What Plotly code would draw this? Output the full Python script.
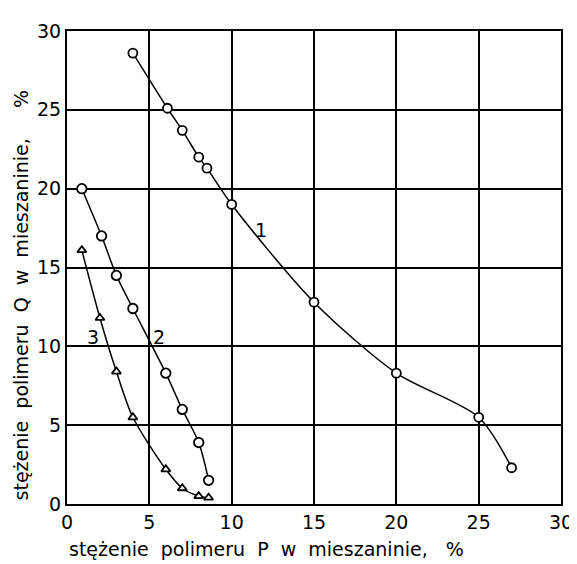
import plotly.graph_objects as go

# Series 1 (circles)
x1 = [4.0, 6.1, 7.0, 8.0, 8.5, 10.0, 15.0, 20.0, 25.0, 27.0]
y1 = [28.6, 25.1, 23.7, 22.0, 21.3, 19.0, 12.8, 8.3, 5.5, 2.3]
# Series 2 (circles)
x2 = [0.9, 2.1, 3.0, 4.0, 6.0, 7.0, 8.0, 8.6]
y2 = [20.0, 17.0, 14.5, 12.4, 8.3, 6.0, 3.9, 1.5]
# Series 3 (triangles)
x3 = [0.9, 2.0, 3.0, 4.0, 6.0, 7.0, 8.0, 8.6]
y3 = [16.1, 11.8, 8.4, 5.5, 2.2, 1.0, 0.5, 0.4]

curve_labels = ["1", "2", "3"]
label_x = [11.8, 5.6, 1.6]
label_y = [17.4, 10.6, 10.6]

xticks = [0, 5, 10, 15, 20, 25, 30]
yticks = [0, 5, 10, 15, 20, 25, 30]

FONT = "DejaVu Sans"

fig = go.Figure()

def add_series(x, y, symbol, size):
    fig.add_trace(go.Scatter(
        x=x, y=y, mode="lines+markers",
        line=dict(color="black", width=1.5, shape="spline", smoothing=0.8),
        marker=dict(symbol=symbol, size=size, color="white",
                    line=dict(color="black", width=1.8)),
        showlegend=False, cliponaxis=False))

add_series(x1, y1, "circle", 9)
add_series(x2, y2, "circle", 9.5)
add_series(x3, y3, "triangle-up", 8)

for t, lx, ly in zip(curve_labels, label_x, label_y):
    fig.add_annotation(x=lx, y=ly, text=t, showarrow=False,
                       font=dict(family=FONT, size=19, color="black"))

fig.add_annotation(xref="paper", yref="paper", x=0.404, y=-0.095,
                   xanchor="center", yanchor="middle",
                   text="stężenie  polimeru  P  w  mieszaninie,   %",
                   showarrow=False,
                   font=dict(family=FONT, size=19, color="black"))
fig.add_annotation(xref="paper", yref="paper", x=-0.094, y=0.44,
                   xanchor="center", yanchor="middle", textangle=-90,
                   text="stężenie  polimeru  Q  w  mieszaninie,     %",
                   showarrow=False,
                   font=dict(family=FONT, size=19, color="black"))

axis_common = dict(
    showgrid=True, gridcolor="black", gridwidth=1.5,
    showline=True, linecolor="black", linewidth=2, mirror=True,
    ticks="", zeroline=False,
    tickfont=dict(family=FONT, size=19, color="black"),
)

fig.update_xaxes(range=[0, 30], tickvals=xticks, **axis_common)
fig.update_yaxes(range=[0, 30], tickvals=yticks, **axis_common)

fig.update_layout(
    width=577, height=564,
    margin=dict(l=59, r=18, t=13, b=68),
    plot_bgcolor="white", paper_bgcolor="white",
    showlegend=False,
)

fig.write_html("out.html")
